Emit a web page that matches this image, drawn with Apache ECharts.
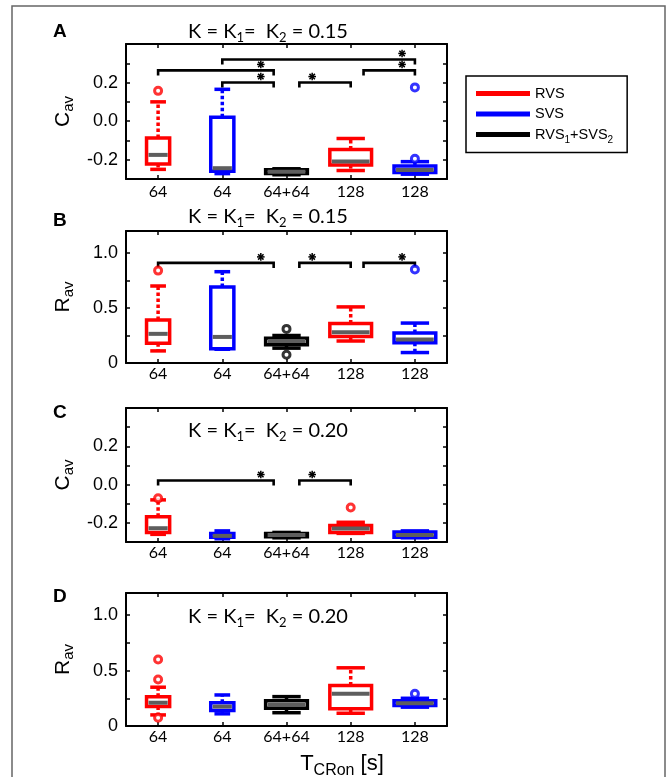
<!DOCTYPE html>
<html>
<head>
<meta charset="utf-8">
<script src="https://cdn.jsdelivr.net/npm/echarts@6/dist/echarts.min.js"></script>
<style>
  html, body { margin: 0; padding: 0; background: #fff; }
  #chart { width: 667px; height: 777px; }
</style>
</head>
<body>
<div id="chart"></div>
<script>
// Groups along the x axis (T_CRon) and the protocol each belongs to
const categories = ['64', '64', '64+64', '128', '128'];
const groups = ['RVS', 'SVS', 'RVS1+SVS2', 'RVS', 'SVS'];

// Box statistics per group: [lower whisker, Q1, median, Q3, upper whisker]
const cavK015 = [
  [-0.25, -0.222, -0.175, -0.087, 0.10],
  [-0.272, -0.26, -0.244, 0.02, 0.165],
  [-0.278, -0.272, -0.262, -0.252, -0.247],
  [-0.256, -0.228, -0.209, -0.147, -0.09],
  [-0.275, -0.266, -0.253, -0.232, -0.21]
];
const ravK015 = [
  [0.11, 0.18, 0.265, 0.39, 0.70],
  [0.125, 0.13, 0.237, 0.69, 0.83],
  [0.135, 0.165, 0.20, 0.225, 0.25],
  [0.20, 0.24, 0.28, 0.36, 0.51],
  [0.095, 0.185, 0.213, 0.273, 0.363]
];
const cavK020 = [
  [-0.26, -0.25, -0.228, -0.168, -0.08],
  [-0.283, -0.275, -0.268, -0.255, -0.242],
  [-0.278, -0.272, -0.263, -0.255, -0.25],
  [-0.255, -0.25, -0.229, -0.214, -0.197],
  [-0.278, -0.275, -0.263, -0.248, -0.242]
];
const ravK020 = [
  [0.10, 0.175, 0.21, 0.265, 0.35],
  [0.11, 0.14, 0.175, 0.21, 0.28],
  [0.12, 0.16, 0.19, 0.227, 0.265],
  [0.115, 0.155, 0.29, 0.365, 0.525],
  [0.17, 0.185, 0.206, 0.227, 0.25]
];

// Outliers: [group index, value]
const cavK015Outliers = [[0, 0.157], [4, 0.175], [4, -0.195]];
const ravK015Outliers = [[0, 0.84], [2, 0.31], [2, 0.075], [4, 0.85]];
const cavK020Outliers = [[0, -0.072], [3, -0.12]];
const ravK020Outliers = [[0, 0.60], [0, 0.42], [0, 0.075], [4, 0.29]];

// Significant pairwise differences: [from group, to group, bracket level]
const cavK015Sig = [[1, 4, 0.32], [0, 2, 0.263], [1, 2, 0.20], [2, 3, 0.20], [3, 4, 0.263]];
const ravK015Sig = [[0, 2, 0.91], [2, 3, 0.91], [3, 4, 0.91]];
const cavK020Sig = [[0, 2, 0.021], [2, 3, 0.021]];
const ravK020Sig = [];

// Tick labels
const cavTicks = [-0.2, 0, 0.2];
const cavTickText = ['-0.2', '0.0', '0.2'];
const ravTicks = [0, 0.5, 1.0];
const ravTickText = ['0', '0.5', '1.0'];

const FONT_CAL = 'Lato, "Open Sans", sans-serif';
const FONT_ARIAL = '"Liberation Sans", Arial, sans-serif';
const groupColors = ['#ff0000', '#0000ff', '#000000', '#ff0000', '#0000ff'];
const boxFrac = [0.36, 0.36, 0.65, 0.65, 0.65];
const NUDGE = 0.2;

const panels = [
  { letter: 'A', kind: 'cav', k: '0.15', top: 44, height: 135, stats: cavK015, out: cavK015Outliers, sig: cavK015Sig, titleY: 32, letterY: 32, labelMargin: 5 },
  { letter: 'B', kind: 'rav', k: '0.15', top: 231, height: 132, stats: ravK015, out: ravK015Outliers, sig: ravK015Sig, titleY: 217, letterY: 221, labelMargin: 3 },
  { letter: 'C', kind: 'cav', k: '0.20', top: 408, height: 134, stats: cavK020, out: cavK020Outliers, sig: cavK020Sig, titleY: 431, letterY: 413, labelMargin: 3 },
  { letter: 'D', kind: 'rav', k: '0.20', top: 593, height: 133, stats: ravK020, out: ravK020Outliers, sig: ravK020Sig, titleY: 617, letterY: 597, labelMargin: 3 }
];

function tickFormatter(kind) {
  const ticks = kind === 'cav' ? cavTicks : ravTicks;
  const text = kind === 'cav' ? cavTickText : ravTickText;
  return function (v) {
    const i = ticks.findIndex(t => Math.abs(t - v) < 1e-6);
    return i >= 0 ? text[i] : '';
  };
}

function boxRenderer(color) {
  return function (params, api) {
    const i = api.value(0);
    const lo = api.coord([i, api.value(1)]);
    const q1 = api.coord([i, api.value(2)]);
    const md = api.coord([i, api.value(3)]);
    const q3 = api.coord([i, api.value(4)]);
    const hi = api.coord([i, api.value(5)]);
    const band = api.size([1, 0])[0];
    const bw = band * boxFrac[i];
    const cw = bw * 0.68;
    const x = md[0];
    const solid = { stroke: color, lineWidth: 3.5, fill: null };
    const dashed = { stroke: color, lineWidth: 3.5, lineDash: [3.5, 2.5], fill: null };
    return {
      type: 'group',
      children: [
        { type: 'line', shape: { x1: x, y1: q3[1], x2: x, y2: hi[1] }, style: dashed },
        { type: 'line', shape: { x1: x, y1: q1[1], x2: x, y2: lo[1] }, style: dashed },
        { type: 'line', shape: { x1: x - cw / 2, y1: hi[1], x2: x + cw / 2, y2: hi[1] }, style: solid },
        { type: 'line', shape: { x1: x - cw / 2, y1: lo[1], x2: x + cw / 2, y2: lo[1] }, style: solid },
        { type: 'rect', shape: { x: x - bw / 2, y: q3[1], width: bw, height: q1[1] - q3[1] }, style: solid },
        { type: 'line', shape: { x1: x - bw / 2 + 2, y1: md[1], x2: x + bw / 2 - 2, y2: md[1] }, style: { stroke: '#5e5e5e', lineWidth: 4 } }
      ]
    };
  };
}

function bracketRenderer(params, api) {
  const a = api.value(0), b = api.value(1), v = api.value(2);
  const band = api.size([1, 0])[0];
  const pa = api.coord([a, v]);
  const pb = api.coord([b, v]);
  const xa = pa[0] + (a >= 2 ? NUDGE * band : 0);
  const xb = pb[0] - (b === 2 ? NUDGE * band : 0);
  const y = pa[1];
  const sx = a === 2 ? xa + NUDGE * band : xb - NUDGE * band;
  const sy = y - 6;
  const r = 3.8, d = 2.7;
  const st = { stroke: '#000', lineWidth: 1.5 };
  return {
    type: 'group',
    children: [
      { type: 'polyline', shape: { points: [[xa, y + 5], [xa, y], [xb, y], [xb, y + 5]] }, style: { stroke: '#000', lineWidth: 2.6, fill: null } },
      { type: 'line', shape: { x1: sx - r, y1: sy, x2: sx + r, y2: sy }, style: st },
      { type: 'line', shape: { x1: sx, y1: sy - r, x2: sx, y2: sy + r }, style: st },
      { type: 'line', shape: { x1: sx - d, y1: sy - d, x2: sx + d, y2: sy + d }, style: st },
      { type: 'line', shape: { x1: sx - d, y1: sy + d, x2: sx + d, y2: sy - d }, style: st }
    ]
  };
}

const grid = [], xAxis = [], yAxis = [], series = [], graphic = [];
const subRich = {
  m: { fontSize: 20, fontFamily: FONT_CAL, color: '#000', lineHeight: 25 },
  s: { fontSize: 13, fontFamily: FONT_CAL, color: '#000', verticalAlign: 'bottom', height: 13 }
};

panels.forEach((p, gi) => {
  const isC = p.kind === 'cav';
  grid.push({ left: 126, top: p.top, width: 321, height: p.height, containLabel: false });
  const axisLine = { show: true, onZero: false, lineStyle: { color: '#000', width: 2 } };
  const axisTick = { show: true, inside: true, length: 4, alignWithLabel: true, lineStyle: { color: '#000', width: 1.5 } };
  xAxis.push({
    gridIndex: gi, type: 'category', data: categories, position: 'bottom',
    axisLine, axisTick, splitLine: { show: false },
    axisLabel: { show: true, interval: 0, margin: p.labelMargin, color: '#000', fontSize: 16, fontFamily: FONT_CAL }
  });
  xAxis.push({
    gridIndex: gi, type: 'category', data: categories, position: 'top',
    axisLine, axisTick, splitLine: { show: false }, axisLabel: { show: false }
  });
  const yBase = {
    gridIndex: gi, type: 'value',
    min: isC ? -0.3 : 0, max: isC ? 0.4 : 1.2, interval: isC ? 0.1 : 0.25,
    axisLine, splitLine: { show: false },
    axisTick: { show: true, inside: true, length: 4, lineStyle: { color: '#000', width: 1.5 } }
  };
  yAxis.push(Object.assign({}, yBase, {
    position: 'left',
    axisLabel: { show: true, margin: 8, color: '#000', fontSize: 18, fontFamily: FONT_ARIAL, formatter: tickFormatter(p.kind) },
    name: isC ? '{m|C}{s|av}' : '{m|R}{s|av}',
    nameLocation: 'middle', nameRotate: 90, nameGap: 50,
    nameTextStyle: {
      rich: {
        m: { fontSize: 21, fontFamily: FONT_ARIAL, color: '#000', lineHeight: 26 },
        s: { fontSize: 15, fontFamily: FONT_ARIAL, color: '#000', verticalAlign: 'bottom', height: 14 }
      }
    }
  }));
  yAxis.push(Object.assign({}, yBase, { position: 'right', axisLabel: { show: false } }));

  ['RVS', 'SVS', 'RVS1+SVS2'].forEach((name, c) => {
    const color = ['#ff0000', '#0000ff', '#000000'][c];
    const data = [];
    groups.forEach((g, i) => { if (g === name) data.push([i].concat(p.stats[i])); });
    series.push({
      type: 'custom', name, xAxisIndex: gi * 2, yAxisIndex: gi * 2,
      itemStyle: { color }, renderItem: boxRenderer(color),
      encode: { x: 0, y: [1, 2, 3, 4, 5] }, data, z: 3, silent: true
    });
  });
  series.push({
    type: 'scatter', name: 'outliers', xAxisIndex: gi * 2, yAxisIndex: gi * 2,
    symbol: 'circle', symbolSize: 7, z: 5, silent: true,
    data: p.out.map(o => ({ value: o, itemStyle: { color: '#fff', borderColor: groupColors[o[0]], borderWidth: 3 } }))
  });
  if (p.sig.length) {
    series.push({
      type: 'custom', name: 'significance', xAxisIndex: gi * 2, yAxisIndex: gi * 2,
      renderItem: bracketRenderer, encode: { x: [0, 1], y: 2 }, data: p.sig, z: 4, silent: true
    });
  }

  graphic.push({
    type: 'text', left: 53, top: p.letterY - 10,
    style: { text: p.letter, font: 'bold 19px ' + FONT_ARIAL, fill: '#000' }
  });
  graphic.push({
    type: 'text', x: 268, y: p.titleY,
    style: { text: '{m|K = K}{s|1}{m|=  K}{s|2}{m| = ' + p.k + '}', rich: subRich, align: 'center', verticalAlign: 'middle' }
  });
});

graphic.push({
  type: 'rect', shape: { x: 12, y: 6, width: 653, height: 800 },
  style: { fill: null, stroke: '#666', lineWidth: 1.5 }, z: -1
});
graphic.push({
  type: 'text', x: 342, y: 764,
  style: {
    text: '{m|T}{s|CRon}{m| [s]}', align: 'center', verticalAlign: 'middle',
    rich: {
      m: { fontSize: 22, fontFamily: FONT_ARIAL, color: '#000', lineHeight: 28 },
      s: { fontSize: 16, fontFamily: FONT_ARIAL, color: '#000', verticalAlign: 'bottom', height: 15 }
    }
  }
});

const chart = echarts.init(document.getElementById('chart'), null, { renderer: 'canvas' });
chart.setOption({
  animation: false,
  backgroundColor: '#fff',
  grid, xAxis, yAxis, series, graphic,
  legend: {
    orient: 'vertical', left: 466, top: 76,
    data: [
      { name: 'RVS', itemStyle: { color: '#ff0000' } },
      { name: 'SVS', itemStyle: { color: '#0000ff' } },
      { name: 'RVS1+SVS2', itemStyle: { color: '#000000' } }
    ],
    icon: 'rect', itemWidth: 54, itemHeight: 5, itemGap: 5.5,
    padding: [10, 14, 7, 10],
    borderColor: '#000', borderWidth: 1.5,
    selectedMode: false,
    formatter: n => n === 'RVS1+SVS2' ? '{t|RVS}{s|1}{t|+SVS}{s|2}' : '{t|' + n + '}',
    textStyle: {
      rich: {
        t: { fontSize: 14.5, fontFamily: FONT_ARIAL, color: '#000', lineHeight: 16 },
        s: { fontSize: 10, fontFamily: FONT_ARIAL, color: '#000', verticalAlign: 'bottom', height: 10, lineHeight: 22 }
      }
    }
  }
});
</script>
</body>
</html>
